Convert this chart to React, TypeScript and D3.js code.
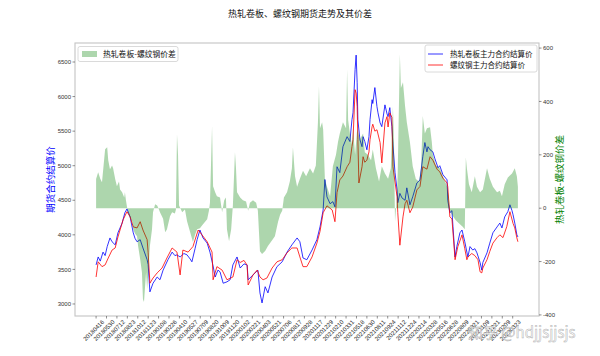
import React from "react";
import * as d3 from "d3";

const title = "热轧卷板、螺纹钢期货走势及其价差";
const hrcName = "热轧卷板主力合约结算价";
const rebarName = "螺纹钢主力合约结算价";
const spreadName = "热轧卷板-螺纹钢价差";
const leftLabel = "期货合约结算价";
const totalDays = 1215;
const tickStep = 30;

const dateTicks = ["20180416","20180530","20180712","20180823","20181012","20181123","20190108","20190226","20190410","20190527","20190709","20190820","20191009","20191120","20200102","20200221","20200403","20200521","20200706","20200817","20200928","20201117","20201229","20210210","20210331","20210518","20210630","20210811","20210924","20211112","20211224","20220214","20220328","20220516","20220628","20220809","20220921","20221109","20221221","20230209","20230323"];

const leftTicks = [3000, 3500, 4000, 4500, 5000, 5500, 6000, 6500];
const rightTicks = [-400, -200, 0, 200, 400, 600];

// [trading-day index, settlement price]
const hrc: [number, number][] = [[0,3565],[6,3680],[12,3620],[20,3750],[26,3700],[32,3830],[40,3955],[46,3900],[55,3855],[63,4030],[75,4170],[83,4320],[89,4375],[98,4260],[107,4030],[112,3950],[118,3900],[127,3930],[135,3810],[147,3640],[150,3570],[155,3175],[164,3300],[176,3390],[184,3350],[193,3490],[207,3640],[219,3750],[227,3700],[233,3710],[242,3680],[253,3730],[262,3710],[271,3650],[276,3610],[285,3800],[291,3930],[299,4070],[308,3955],[320,3880],[328,3750],[337,3550],[343,3390],[351,3490],[357,3465],[366,3300],[377,3320],[386,3350],[394,3565],[406,3680],[415,3520],[426,3580],[435,3565],[438,3350],[452,3420],[466,3490],[472,3160],[478,3015],[487,3250],[495,3160],[507,3390],[521,3540],[536,3610],[550,3750],[564,3855],[579,3955],[587,3900],[596,3665],[607,3640],[622,3780],[636,3930],[645,4115],[654,4360],[659,4800],[665,4550],[674,4450],[682,4480],[688,4405],[694,4985],[702,4900],[711,5275],[723,5420],[731,5350],[737,5665],[740,5765],[746,6390],[749,6600],[752,6200],[754,5665],[760,5375],[766,5275],[769,5420],[774,5350],[780,5230],[786,5420],[789,5665],[795,5955],[797,5900],[803,6130],[809,5855],[812,5765],[818,5620],[823,5565],[832,5880],[838,5750],[841,5710],[846,5840],[852,5565],[855,5300],[861,4900],[867,4650],[869,4465],[875,4600],[881,4535],[890,4500],[895,4680],[904,4435],[912,4550],[924,4750],[933,4795],[941,5130],[947,5335],[953,5200],[956,5275],[962,5230],[970,5200],[976,5100],[985,4970],[990,5000],[999,4870],[1011,4795],[1013,4500],[1019,4320],[1025,4350],[1028,4115],[1034,3680],[1039,3830],[1048,4030],[1054,4070],[1062,3900],[1068,3750],[1071,3680],[1077,3830],[1085,3780],[1091,3800],[1097,3740],[1106,3600],[1111,3490],[1114,3600],[1126,3740],[1134,3880],[1143,4030],[1155,4115],[1163,4170],[1169,4100],[1177,4260],[1186,4335],[1192,4435],[1198,4350],[1201,4290],[1206,4170],[1212,4000],[1215,3970]];

const rebar: [number, number][] = [[0,3390],[6,3610],[17,3540],[26,3565],[35,3665],[46,3780],[55,3810],[63,3970],[78,4220],[89,4335],[98,4260],[107,4115],[118,4100],[127,4190],[135,4070],[147,3930],[150,3740],[155,3300],[164,3375],[176,3450],[190,3520],[204,3665],[219,3810],[233,3750],[242,3420],[250,3780],[265,3750],[279,3830],[294,4070],[305,4000],[320,3900],[334,3750],[337,3350],[348,3540],[363,3490],[377,3350],[394,3390],[406,3640],[415,3600],[426,3630],[435,3560],[438,3275],[452,3420],[464,3490],[472,3390],[481,3350],[492,3375],[507,3520],[521,3610],[536,3640],[550,3740],[564,3810],[579,3810],[587,3680],[596,3540],[607,3540],[622,3680],[636,3880],[645,4050],[654,4320],[665,4420],[680,4360],[688,4190],[694,4610],[702,4795],[711,4850],[723,4985],[731,5050],[737,5275],[740,5375],[746,6100],[749,6050],[752,5855],[754,5375],[757,4750],[766,4985],[769,5130],[774,5050],[780,5080],[786,5200],[789,5375],[795,5565],[797,5600],[803,5500],[809,5520],[818,5335],[823,5040],[832,5620],[838,5710],[841,5560],[846,5765],[852,5700],[855,4985],[867,4550],[869,4320],[875,3850],[884,4260],[890,4450],[895,4500],[904,4320],[912,4400],[924,4650],[933,4700],[941,4985],[953,4950],[962,5130],[970,5080],[982,4950],[990,4910],[999,4820],[1011,4750],[1013,4695],[1019,4260],[1025,4230],[1034,3640],[1042,3830],[1054,4000],[1062,3800],[1068,3640],[1071,3680],[1082,3730],[1091,3700],[1100,3640],[1106,3465],[1111,3450],[1114,3520],[1126,3640],[1134,3760],[1143,3880],[1155,3960],[1163,4000],[1172,3960],[1183,4120],[1192,4335],[1201,4165],[1206,4100],[1212,3955],[1215,3900]];

const spread: [number, number][] = [[0,109],[6,135],[12,110],[17,97],[26,221],[32,228],[35,180],[40,146],[46,160],[49,150],[55,109],[60,82],[66,100],[69,70],[75,60],[81,40],[83,60],[86,30],[89,5],[92,-15],[98,-34],[104,-50],[107,-79],[112,-95],[118,-105],[121,-142],[127,-191],[132,-240],[135,-341],[138,-352],[144,-240],[147,-303],[150,-250],[155,-142],[161,-80],[164,-15],[170,15],[176,10],[181,-5],[184,-15],[193,-40],[199,-90],[204,-80],[213,-30],[219,-15],[227,-20],[230,-5],[233,277],[236,200],[239,10],[248,-15],[256,-5],[262,-49],[271,-90],[279,-127],[285,-100],[291,-79],[299,-75],[308,-60],[320,-41],[325,-10],[328,20],[334,307],[337,82],[343,60],[348,45],[357,40],[363,-15],[369,30],[374,40],[377,-80],[383,-124],[389,-80],[394,10],[400,210],[403,150],[406,60],[415,40],[423,30],[432,25],[438,-10],[443,20],[452,30],[461,20],[466,-10],[472,-161],[478,-172],[487,-160],[495,-142],[507,-120],[515,-105],[524,-52],[530,-25],[536,-10],[541,40],[550,60],[558,100],[564,150],[567,228],[573,120],[579,80],[587,110],[596,140],[605,120],[616,150],[625,130],[633,160],[639,322],[642,457],[645,300],[651,322],[654,296],[659,110],[665,80],[674,45],[682,157],[691,200],[697,250],[702,280],[711,322],[720,300],[723,520],[726,330],[731,280],[737,240],[740,300],[746,200],[752,296],[760,258],[769,280],[774,210],[783,200],[792,180],[797,220],[806,150],[815,100],[823,157],[832,130],[841,110],[849,150],[855,380],[858,250],[861,-50],[867,50],[869,150],[875,577],[878,450],[884,472],[890,382],[895,322],[904,247],[912,157],[921,109],[930,100],[936,150],[941,345],[947,280],[953,300],[962,303],[967,248],[970,200],[979,160],[990,150],[999,120],[1011,82],[1016,40],[1019,-10],[1028,-30],[1036,-45],[1048,-60],[1056,-70],[1062,-79],[1065,191],[1068,150],[1074,90],[1082,60],[1091,120],[1097,80],[1106,60],[1114,70],[1126,150],[1134,110],[1143,80],[1155,60],[1163,65],[1169,45],[1177,90],[1186,115],[1198,130],[1206,150],[1212,120],[1215,80]];

const W = 600, H = 356;
const M = { left: 75, right: 539, top: 43, bottom: 316 };
const CJK = "'Noto Sans CJK SC', 'Noto Sans', sans-serif";
const NUM = "'Liberation Sans', Arial, sans-serif";

export default function App() {
  const pad = totalDays * 0.05;
  const x = d3.scaleLinear().domain([-pad, totalDays + pad]).range([M.left, M.right]);
  const yL = d3.scaleLinear().domain([2826, 6775]).range([M.bottom, M.top]);
  const yR = d3.scaleLinear().domain([-404, 619]).range([M.bottom, M.top]);

  const lineL = d3.line<[number, number]>().x(d => x(d[0])).y(d => yL(d[1]));
  const area = d3.area<[number, number]>().x(d => x(d[0])).y0(yR(0)).y1(d => yR(d[1]));

  const ticksX = dateTicks.map((t, i) => ({ label: t, pos: x(i * tickStep) }));
  const spineColor = "#c4c4c4";

  return (
    <div style={{ position: "absolute", left: 0, top: 0 }}>
      <svg width={W} height={H} style={{ display: "block", background: "#fff" }}>
        <text x={300} y={17} textAnchor="middle" fontFamily={CJK} fontSize={9} fill="#111">{title}</text>

        {/* lines (primary axis) */}
        <path d={lineL(hrc) || ""} fill="none" stroke="#0000ff" strokeWidth={0.8} />
        <path d={lineL(rebar) || ""} fill="none" stroke="#ff0000" strokeWidth={0.8} />

        {/* spread area (twin axis, drawn on top) */}
        <path d={area(spread) || ""} fill="#008000" fillOpacity={0.32} stroke="none" />

        {/* frame */}
        <rect x={M.left} y={M.top} width={M.right - M.left} height={M.bottom - M.top} fill="none" stroke={spineColor} strokeWidth={1.1} />

        {/* left axis */}
        {leftTicks.map(v => (
          <g key={"l" + v}>
            <line x1={M.left - 2.5} x2={M.left} y1={yL(v)} y2={yL(v)} stroke="#444" strokeWidth={0.6} />
            <text x={M.left - 4} y={yL(v)} dy="0.35em" textAnchor="end" fontFamily={NUM} fontSize={6} fill="#333">{v}</text>
          </g>
        ))}
        {/* right axis */}
        {rightTicks.map(v => (
          <g key={"r" + v}>
            <line x1={M.right} x2={M.right + 2.5} y1={yR(v)} y2={yR(v)} stroke="#444" strokeWidth={0.6} />
            <text x={M.right + 4} y={yR(v)} dy="0.35em" textAnchor="start" fontFamily={NUM} fontSize={6} fill="#333">{v}</text>
          </g>
        ))}
        {/* x axis */}
        {ticksX.map(t => (
          <g key={t.label}>
            <line x1={t.pos} x2={t.pos} y1={M.bottom} y2={M.bottom + 2.5} stroke="#444" strokeWidth={0.6} />
            <text transform={`translate(${t.pos + 7},${M.bottom + 5}) rotate(-45)`} textAnchor="end" dy="0.35em" fontFamily={NUM} fontSize={6} fill="#222">{t.label}</text>
          </g>
        ))}

        {/* axis labels */}
        <text transform={`translate(54,${(M.top + M.bottom) / 2}) rotate(-90)`} textAnchor="middle" fontFamily={CJK} fontSize={9.5} fill="#0000ff">{leftLabel}</text>
        <text transform={`translate(563,${(M.top + M.bottom) / 2}) rotate(-90)`} textAnchor="middle" fontFamily={CJK} fontSize={9.5} fill="#008000">{spreadName}</text>

        {/* left legend */}
        <g>
          <rect x={78} y={46.5} width={100} height={15} rx={2} fill="#fff" fillOpacity={0.85} stroke="#d0d0d0" strokeWidth={0.8} />
          <rect x={82} y={51} width={15} height={6} fill="#008000" fillOpacity={0.32} />
          <text x={103} y={57} fontFamily={CJK} fontSize={7.8} fill="#111">{spreadName}</text>
        </g>
        {/* right legend */}
        <g>
          <rect x={425} y={45} width={112} height={27} rx={2} fill="#fff" fillOpacity={0.85} stroke="#d0d0d0" strokeWidth={0.8} />
          <line x1={428} x2={443} y1={54} y2={54} stroke="#0000ff" strokeWidth={0.8} />
          <text x={450} y={57} fontFamily={CJK} fontSize={7.5} fill="#111">{hrcName}</text>
          <line x1={428} x2={443} y1={65} y2={65} stroke="#ff0000" strokeWidth={0.8} />
          <text x={450} y={68} fontFamily={CJK} fontSize={7.5} fill="#111">{rebarName}</text>
        </g>

        {/* watermark */}
        <text x={468} y={338} fontFamily={CJK} fontSize={15} fill="#fff" fillOpacity={0.85} stroke="#9a9a9a" strokeWidth={0.5} strokeOpacity={0.8}>知乎 @hdjjsjjsjs</text>
      </svg>
    </div>
  );
}
